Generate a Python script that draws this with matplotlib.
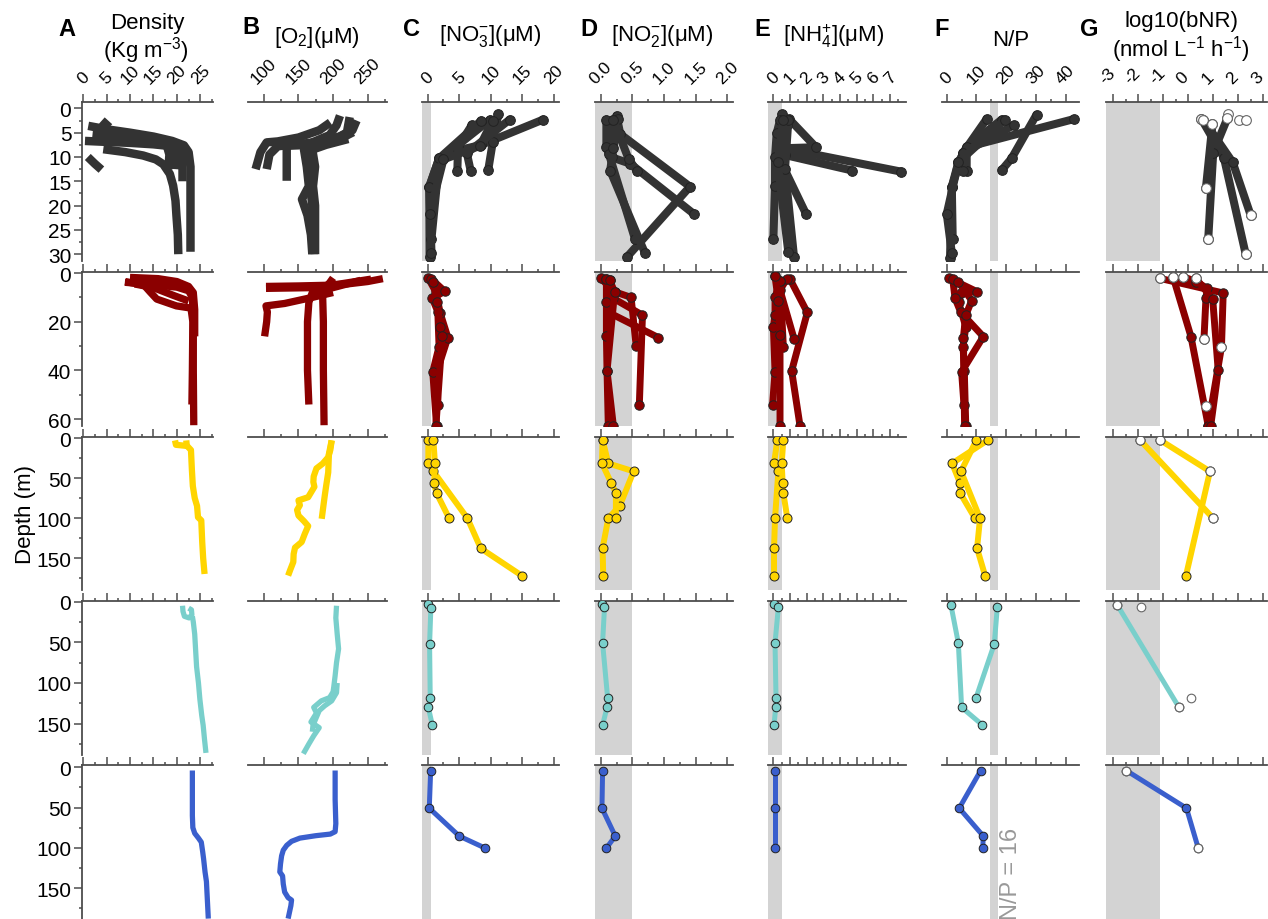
import matplotlib
matplotlib.use("Agg")
import matplotlib.pyplot as plt
from matplotlib.ticker import MultipleLocator
from matplotlib.transforms import ScaledTranslation

plt.rcParams['font.family'] = ['Liberation Sans', 'DejaVu Sans']
plt.rcParams['mathtext.fontset'] = 'custom'
plt.rcParams['mathtext.rm'] = 'Liberation Sans'
plt.rcParams['mathtext.it'] = 'Liberation Sans:italic'
plt.rcParams['axes.unicode_minus'] = False

# Profiles: each is a list of (value, depth in m)
# ---- station group 1 (0-30 m)
dens1 = [
    [(1.1, 3.6), (5, 4.3), (10, 5.0), (15, 5.8), (19, 6.7), (21.5, 7.6), (22.5, 9), (22.9, 12), (22.9, 20), (22.9, 29.5)],
    [(0.4, 6.7), (5, 6.9), (10, 7.1), (15, 7.4), (19, 7.8), (20.8, 8.6), (21.2, 10.5), (21.2, 15)],
    [(2, 5.4), (8, 6.0), (14, 6.6), (18, 7.3), (19.4, 8.2), (19.8, 9.8), (19.6, 12.5)],
    [(4.3, 8.4), (9, 9.0), (12.8, 9.7), (15.5, 10.5), (17.1, 11.5), (18.5, 13.5), (19.2, 15.9), (19.7, 19), (19.9, 22), (20.2, 26), (20.3, 30)],
    [(3, 4.6), (10, 5.4), (15.5, 6.3), (17.8, 7.5), (18.4, 9.5), (18.2, 12.5)],
    [(4.0, 2.5), (5.6, 3.9)],
    [(1.0, 10.0), (2.5, 11.4), (3.9, 12.6)],
]
oxy1 = [
    [(234, 2.5), (228, 4.5), (210, 5.8), (180, 6.8), (165, 8), (168, 11), (166, 15), (170, 20), (172, 25), (172, 30)],
    [(210, 1.5), (205, 3.5), (195, 5.5), (170, 7), (158, 8.5), (162, 12), (165, 16), (155, 18.7), (163, 22), (168, 26), (170, 30)],
    [(196, 2.9), (180, 4.5), (150, 6), (120, 6.8), (104, 7), (95, 9), (88, 12.5)],
    [(224, 1.8), (220, 5), (200, 6.5), (160, 7.2), (120, 7.8), (108, 9.5), (104, 12.5)],
    [(229, 4.9), (210, 6.3), (175, 7.3), (150, 7.6), (133, 7.7), (133, 11), (133, 14.9)],
    [(222, 6.3), (190, 7.5), (170, 8.5), (174, 12), (171, 16), (174, 20), (174, 25), (174, 30)],
]
no3_1 = [
    [(18.3, 2.3), (8.5, 7.5), (3.3, 9.1), (1.8, 10.3), (0.25, 16.1), (0.3, 30.6)],
    [(11.2, 1.2), (10.3, 7.0), (9.6, 12.6)],
    [(13.0, 2.3), (6.2, 9.2), (6.8, 12.8)],
    [(7.0, 3.4), (4.8, 8.0), (4.7, 12.8)],
    [(9.9, 2.3), (3.3, 9.1), (1.8, 11.0), (0.6, 26.8)],
    [(8.5, 2.5), (1.8, 10.3), (0.25, 16.1), (0.6, 29.7)],
    [(10.3, 2.5), (8.3, 7.7), (2.5, 10.5), (0.3, 21.8)],
]
no2_1 = [
    [(0.25, 1.5), (0.31, 5.3), (1.41, 16.1), (0.42, 30.5)],
    [(0.20, 2.3), (0.18, 10.1), (0.47, 11.4), (1.47, 21.7)],
    [(0.09, 2.3), (0.09, 8.0), (0.13, 9.4), (0.54, 26.8)],
    [(0.28, 2.2), (0.20, 8.1), (0.15, 12.8), (0.70, 29.8)],
    [(0.20, 2.3), (0.44, 10.4), (0.57, 12.8)],
]
nh4_1 = [
    [(0.95, 2.2), (2.56, 8.0), (0.6, 8.2), (7.65, 13.0)],
    [(0.5, 1.2), (0.7, 9.6), (4.75, 12.8)],
    [(0.4, 2.4), (0.2, 5.1), (0.1, 10.1), (0.1, 15.9), (0.0, 26.9)],
    [(0.8, 3.4), (0.5, 11.3), (1.96, 21.7)],
    [(0.9, 2.4), (0.7, 12.5), (1.24, 30.5)],
    [(0.6, 2.4), (0.25, 11.0), (0.9, 29.6)],
]
np1 = [
    [(42.8, 2.2), (6.7, 8.0), (3.9, 11.1), (1.7, 16.1), (1.1, 30.7)],
    [(30.2, 1.3), (21.8, 10.3), (18.5, 12.7)],
    [(13.4, 2.2), (5.4, 9.2), (1.7, 16.1), (2.0, 26.8)],
    [(18.5, 2.3), (6.7, 8.0), (6.7, 12.8)],
    [(22.7, 3.4), (5.4, 9.2), (5.4, 12.8)],
    [(19.6, 2.3), (3.9, 11.1), (0.0, 21.7), (1.7, 29.7)],
]
bnr1 = [
    [(0.53, 2.2), (1.43, 10.2), (2.3, 30)],
    [(0.6, 2.3), (1.78, 11.1), (2.5, 22)],
    [(1.57, 2.0), (1.0, 9.1), (0.8, 26.9)],
    [(0.97, 3.2), (0.71, 16.3)],
]
bnr_open1 = [(0.53, 2.2), (0.6, 2.3), (0.97, 3.2), (1.6, 1.2), (1.57, 2.0), (2.04, 2.3), (2.31, 2.3),
             (0.71, 16.3), (0.8, 26.9), (2.5, 22), (2.3, 30)]

# ---- station group 2 (0-60 m)
dens2 = [
    [(8.9, 3.8), (12, 4.3), (16, 5.0), (20, 5.8), (22.5, 7.3), (23.3, 10), (23.5, 20), (23.5, 40), (23.6, 62.5)],
    [(10.0, 1.8), (16, 2.3), (20, 3.5), (22.5, 5.5), (23.5, 8), (23.8, 15), (23.8, 26)],
    [(9, 3.5), (13, 5), (14.3, 7.8), (15.7, 10.7), (19.9, 13.5), (23, 14.4), (23.4, 20), (23.3, 40), (23.2, 54)],
    [(11, 4.5), (15, 6), (19, 9), (22.5, 11.5)],
]
oxy2 = [
    [(272, 2.3), (250, 3.5), (220, 4.5), (195, 5), (150, 5.3), (103, 5.5)],
    [(200, 2), (195, 4), (188, 6), (185, 10), (186, 20), (186, 40), (187, 62.5)],
    [(240, 3), (200, 6), (170, 8), (165, 12), (163, 20), (163, 40), (165, 54)],
    [(200, 8), (170, 10), (130, 12.5), (103, 13.5), (105, 16), (104, 20), (101, 26)],
    [(255, 2.5), (210, 4.5), (170, 6), (103, 6.3)],
]
no3_2 = [
    [(0.1, 2.2), (1.3, 7.8), (2.0, 16.6), (3.2, 26.5), (1.5, 40.2), (1.6, 54.2)],
    [(0.6, 2.5), (2.7, 7.5), (0.73, 10.4), (1.6, 15.9), (1.8, 30.2), (0.8, 40.6), (1.4, 62.7)],
    [(0.9, 3.8), (1.5, 12.0), (1.95, 22.1), (2.3, 26.0), (1.3, 62.7)],
]
no2_2 = [
    [(0.0, 2.2), (0.22, 7.7), (0.48, 10.0), (0.56, 29.9)],
    [(0.09, 2.5), (0.2, 10.4), (0.66, 17.3), (0.61, 54.3)],
    [(0.14, 2.9), (0.12, 16.1), (0.91, 26.5)],
    [(0.09, 2.5), (0.09, 11.7), (0.09, 26.0), (0.1, 40.2), (0.12, 62.7)],
    [(0.14, 2.9), (0.22, 7.7), (0.1, 40.2), (0.2, 62.7)],
]
nh4_2 = [
    [(1.0, 2.5), (2.04, 16.2), (1.1, 40.2), (1.6, 62.7)],
    [(0.8, 2.5), (0.4, 7.0), (1.24, 26.9)],
    [(0.1, 1.4), (0.4, 3.2), (0.6, 30.3)],
    [(0.4, 3.2), (0.1, 10.0), (0.1, 17.3), (0.0, 22.1), (0.1, 40.6), (-0.05, 54.3)],
    [(0.1, 1.4), (0.3, 11.5), (0.4, 25.5), (0.4, 62.7)],
]
np2 = [
    [(0.9, 2.2), (10.1, 7.6), (4.8, 8.4), (4.0, 12.0), (6.4, 22.1), (5.5, 30.3), (5.9, 40.2), (6.4, 62.7)],
    [(2.0, 2.5), (2.8, 10.4), (4.7, 16.1), (12.3, 26.1), (5.0, 40.6), (5.8, 54.2)],
    [(3.9, 3.6), (8.4, 11.3), (6.4, 17.3), (5.6, 26.5), (6.0, 62.7)],
]
bnr2 = [
    [(-1.13, 2.2), (1.4, 8.2), (1.33, 30.4), (0.8, 62.7)],
    [(-0.6, 1.8), (0.11, 26.1), (0.8, 62.7)],
    [(-0.2, 1.5), (0.31, 3.5), (0.76, 6.3), (0.71, 10.2), (0.63, 27.1)],
    [(0.31, 2.2), (0.98, 10.8), (1.2, 40), (0.9, 62.7)],
]
bnr_open2 = [(-1.13, 2.2), (-0.6, 1.8), (-0.2, 1.5), (0.31, 2.2), (0.63, 27.1), (1.33, 30.4), (0.71, 54.6)]

# ---- station group 3 (0-170 m)
dens3 = [
    [(19.6, 3), (19.8, 8.5), (21.5, 9.5), (22.2, 10), (23.0, 15), (23.2, 40), (23.4, 60), (23.8, 75), (24.3, 85),
     (24.5, 99), (25.2, 103), (25.4, 130), (25.6, 150), (25.9, 170)],
    [(22.0, 3), (22.1, 9.5)],
]
oxy3 = [
    [(198, 3), (196, 15), (193, 24), (185, 32), (176, 38), (172, 48), (171.5, 55), (173, 61), (164, 74), (150, 78),
     (152, 84), (148, 90), (150, 97), (158, 104), (164, 110), (159, 120), (154.6, 130), (145, 137), (143, 145),
     (142.5, 155), (138, 165), (135, 172)],
    [(198, 3), (194, 20), (193, 43), (190, 60), (188, 72), (186, 85), (183.6, 101)],
]
no3_3 = [
    [(0.1, 2.5), (0.1, 31.7), (0.9, 41.7), (6.3, 100.4), (8.4, 137.9), (14.9, 172)],
    [(0.9, 2.5), (1.15, 31.7), (1.0, 56.7), (1.4, 68.8), (3.4, 100.4)],
]
no2_3 = [
    [(0.03, 2.5), (0.12, 31.7), (0.52, 41.7), (0.3, 85), (0.12, 100.4), (0.03, 137.9), (0.04, 172)],
    [(0.03, 2.5), (0.02, 31.7), (0.17, 56.7), (0.24, 68.8), (0.24, 100.4)],
]
nh4_3 = [
    [(0.24, 2.5), (0.04, 31.7), (0.3, 41.7), (0.1, 100.4), (0.04, 137.9), (0.04, 172)],
    [(0.6, 2.5), (0.5, 31.7), (0.56, 56.7), (0.6, 68.8), (0.84, 100.4)],
]
np3 = [
    [(13.9, 2.5), (1.8, 31.7), (4.5, 56.7), (4.5, 68.8), (9.5, 100.4)],
    [(10.0, 2.5), (4.8, 41.7), (11.2, 100.4), (10.2, 137.9), (12.9, 172)],
]
bnr3 = [
    [(-1.13, 2.5), (0.87, 41.7), (-0.09, 172)],
    [(-1.93, 2.5), (1.0, 100.4)],
]
bnr_open3 = [(-1.93, 2.5), (-1.13, 2.5), (0.87, 41.7), (1.0, 100.4)]

# ---- station group 4 (0-190 m)
dens4 = [
    [(21.2, 5), (21.3, 12), (21.6, 18), (22.6, 20), (23.2, 16), (23.1, 10), (22.5, 8)],
    [(23.3, 18), (23.5, 25), (23.8, 40), (24.0, 60), (24.2, 80), (24.6, 100), (24.9, 120), (25.3, 140),
     (25.6, 152), (25.9, 170), (26.2, 186)],
]
oxy4 = [
    [(205, 5), (204, 20), (206, 40), (208, 58), (205, 75), (203, 91), (201, 105), (200, 111), (195, 118),
     (183, 122), (172, 130), (176, 137), (168, 148), (180, 155), (172, 165), (165, 175), (157, 187)],
    [(206, 100), (205, 112), (198, 122), (188, 128), (180, 134), (176, 142), (171, 152), (170, 160)],
]
no3_4 = [[(0.0, 3), (0.5, 8), (0.3, 52), (0.4, 118.8), (0.1, 130), (0.73, 151.7)]]
no2_4 = [[(0.02, 2.8), (0.06, 7), (0.03, 50.8), (0.11, 118.8), (0.1, 130), (0.03, 151.7)]]
nh4_4 = [[(0.04, 2.8), (0.3, 7), (0.1, 50.8), (0.16, 118.8), (0.14, 130), (0.04, 151.7)]]
np4 = [
    [(1.4, 4), (3.9, 51), (5.0, 130), (12.0, 151.7)],
    [(17.0, 7), (16.0, 52), (9.8, 118.8)],
]
bnr4 = [[(-2.84, 4), (-0.37, 130)]]
bnr_open4 = [(-2.84, 4), (-1.9, 7), (-0.37, 130), (0.1, 118.8)]

# ---- station group 5 (0-190 m)
dens5 = [[(23.3, 4), (23.3, 30), (23.3, 60), (23.4, 75), (23.8, 82), (24.6, 88), (25.2, 93), (25.5, 105),
          (25.7, 114), (26.0, 130), (26.3, 142), (26.5, 165), (26.7, 188)]]
oxy5 = [[(203, 4), (203, 40), (204, 70), (203, 80), (196, 83), (175, 85), (152, 88), (140, 92), (133, 97),
         (128, 103), (125.6, 110), (124, 120), (123, 130), (127, 135), (128, 145), (130, 155), (135, 162),
         (140, 165), (139, 172), (137, 180), (135, 188)]]
no3_5 = [[(0.47, 4.2), (0.25, 50.8), (5.0, 85.5), (9.1, 100.4)]]
no2_5 = [[(0.03, 4.2), (0.02, 50.8), (0.23, 85.5), (0.09, 100.4)]]
nh4_5 = [[(0.1, 4.2), (0.1, 50.8), (0.1, 100.4)]]
np5 = [[(11.4, 4.2), (4.2, 50.8), (12.3, 85.5), (12.1, 100.4)]]
bnr5 = [[(-2.47, 4.2), (-0.07, 50.8), (0.4, 100.4)]]
bnr_open5 = [(-2.47, 4.2), (0.4, 100.4)]

row_colors = ['#333333', '#8b0000', '#ffd500', '#79cfcb', '#3a5fcd']
rows = [
    [dens1, oxy1, no3_1, no2_1, nh4_1, np1, bnr1],
    [dens2, oxy2, no3_2, no2_2, nh4_2, np2, bnr2],
    [dens3, oxy3, no3_3, no2_3, nh4_3, np3, bnr3],
    [dens4, oxy4, no3_4, no2_4, nh4_4, np4, bnr4],
    [dens5, oxy5, no3_5, no2_5, nh4_5, np5, bnr5],
]
open_pts = [bnr_open1, bnr_open2, bnr_open3, bnr_open4, bnr_open5]

# axis setup per column: xlim, major step, shaded band
col_xlim = [(-0.3, 27.7), (77, 278), (-0.95, 20.8), (-0.09, 2.095), (-0.34, 7.95), (-1.7, 44.6), (-3.29, 3.14)]
col_major = [5, 50, 5, 0.5, 1, 10, 1]
col_band = [None, None, (-1, 0.47), (-0.1, 0.5), (-0.4, 0.5), (14.6, 17.1), (-3.4, -1.12)]
# row setup: ylim and major depth step
row_ylim = [(31.4, -1.37), (62.7, -0.3), (190, -0.9), (188.6, -1.2), (188.5, -3.2)]
row_major = [5, 20, 50, 50, 50]

W, H = 1268, 920
col_px = [(81.7, 213), (248, 387), (421.7, 559), (595, 733.3), (767.7, 905.7), (941.7, 1079.3), (1106, 1266.7)]
row_px = [(102.7, 262), (273.3, 426.7), (438.3, 591), (601.7, 756), (765.7, 920)]
line_w = [5.8, 5.0, 4.3, 3.6, 3.6]
mark_s = [7, 6.8, 6.5, 6.2, 6.2]
spine_c = '#4d4d4d'

fig = plt.figure(figsize=(W / 100, H / 100), dpi=100)

for r, (top, bot) in enumerate(row_px):
    color = row_colors[r]
    for c, (left, right) in enumerate(col_px):
        ax = fig.add_axes([left / W, 1 - bot / H, (right - left) / W, (bot - top) / H])
        ax.set_xlim(col_xlim[c])
        ax.set_ylim(row_ylim[r])
        ax.patch.set_alpha(0)
        if col_band[c] is not None:
            ax.axvspan(col_band[c][0], col_band[c][1], color='#d3d3d3', lw=0, zorder=0)

        for prof in rows[r][c]:
            xs = [p[0] for p in prof]
            ds = [p[1] for p in prof]
            if c < 2:
                ax.plot(xs, ds, color=color, lw=line_w[r] * 1.05, solid_capstyle='butt',
                        solid_joinstyle='round', zorder=3)
            else:
                ax.plot(xs, ds, '-o', color=color, lw=line_w[r], ms=mark_s[r], mfc=color,
                        mec='#222222', mew=0.7, solid_capstyle='round', solid_joinstyle='round', zorder=3)
        if c == 6:
            ox = [p[0] for p in open_pts[r]]
            od = [p[1] for p in open_pts[r]]
            ax.plot(ox, od, 'o', ms=mark_s[r], mfc='white', mec='#666666', mew=0.8, zorder=4)

        # axes frame: top spine everywhere, left spine on first column
        for s in ['right', 'bottom']:
            ax.spines[s].set_visible(False)
        ax.spines['top'].set_color(spine_c)
        ax.spines['top'].set_linewidth(1.3)
        ax.xaxis.set_major_locator(MultipleLocator(col_major[c]))
        ax.xaxis.set_minor_locator(MultipleLocator(col_major[c] / 2))
        ax.tick_params(axis='x', which='both', top=True, bottom=False, labeltop=(r == 0),
                       labelbottom=False, direction='out', color=spine_c, width=1.1)
        ax.tick_params(axis='x', which='major', length=5.5, labelsize=12.5, labelrotation=45, pad=6)
        ax.tick_params(axis='x', which='minor', length=2.5)
        if r == 0 and c == 6:
            # nudge the last column's labels so the rightmost one stays inside the figure
            shift = ScaledTranslation(-4 / 72, 0, fig.dpi_scale_trans)
            for lbl in ax.get_xticklabels():
                lbl.set_transform(lbl.get_transform() + shift)
        if c == 0:
            ax.spines['left'].set_color(spine_c)
            ax.spines['left'].set_linewidth(1.3)
            ax.yaxis.set_major_locator(MultipleLocator(row_major[r]))
            ax.yaxis.set_minor_locator(MultipleLocator(row_major[r] / 2))
            ax.tick_params(axis='y', which='both', left=True, direction='out', color=spine_c, width=1.1)
            ax.tick_params(axis='y', which='major', length=5.5, labelsize=15, pad=2)
            ax.tick_params(axis='y', which='minor', length=2.5)
        else:
            ax.spines['left'].set_visible(False)
            ax.tick_params(axis='y', which='both', left=False, labelleft=False)

        if r == 4 and c == 5:
            ax.text(17.9, 188.5, 'N/P = 16', rotation=90, color='#999999', fontsize=17,
                    ha='left', va='bottom', zorder=2)


def ftext(x, y, s, **kw):
    fig.text(x / W, 1 - y / H, s, ha='center', va='center', **kw)


letter_kw = dict(fontsize=17, fontweight='bold')
title_kw = dict(fontsize=16)
ftext(67, 29, 'A', **letter_kw)
ftext(251, 27, 'B', **letter_kw)
ftext(412, 30, 'C', **letter_kw)
ftext(589, 30, 'D', **letter_kw)
ftext(762, 30, 'E', **letter_kw)
ftext(942, 29, 'F', **letter_kw)
ftext(1089, 30, 'G', **letter_kw)

ftext(147, 24, 'Density', **title_kw)
ftext(146, 51, '(Kg m$^{-3}$)', **title_kw)
ftext(317, 37, '[O$_2$](μM)', **title_kw)
ftext(490, 36, '[NO$_3^{-}$](μM)', **title_kw)
ftext(662, 36, '[NO$_2^{-}$](μM)', **title_kw)
ftext(834, 36, '[NH$_4^{+}$](μM)', **title_kw)
ftext(1011, 40, 'N/P', **title_kw)
ftext(1181, 21, 'log10(bNR)', **title_kw)
ftext(1181, 50, '(nmol L$^{-1}$ h$^{-1}$)', **title_kw)
ftext(25, 515, 'Depth (m)', rotation=90, fontsize=16)

fig.savefig('out.png', dpi=100)
